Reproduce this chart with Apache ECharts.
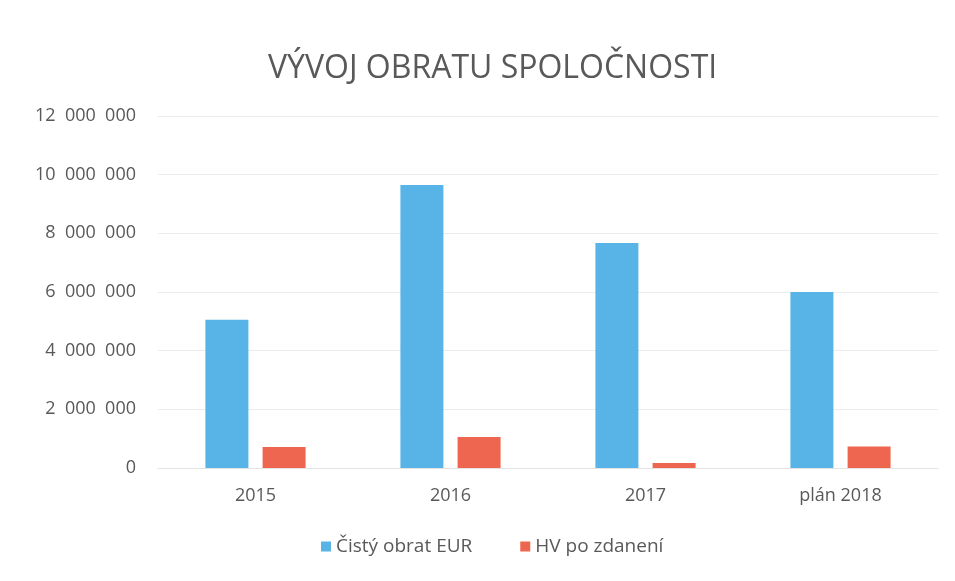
<!DOCTYPE html>
<html>
<head>
<meta charset="utf-8">
<script src="https://cdn.jsdelivr.net/npm/echarts@6/dist/echarts.min.js"></script>
<style>
  html, body { margin: 0; padding: 0; background: #fff; }
  #chart { width: 955px; height: 581px; }
</style>
</head>
<body>
<div id="chart"></div>
<script>
const categories = ['2015', '2016', '2017', 'plán 2018']
const obrat = [5050000, 9650000, 7670000, 6000000]
const hv = [720000, 1060000, 170000, 730000]
const seriesNames = ['Čistý obrat EUR', 'HV po zdanení']

const font = '"Open Sans", Lato, sans-serif'

// thousands separated by a wide gap, like the original
function formatNum(v) {
  return String(v).replace(/\B(?=(\d{3})+(?!\d))/g, '  ')
}

const chart = echarts.init(document.getElementById('chart'))
chart.setOption({
  animation: false,
  textStyle: { fontFamily: font },
  title: {
    text: 'VÝVOJ OBRATU SPOLOČNOSTI',
    left: 263,
    top: 48,
    textStyle: { fontFamily: font, fontSize: 32, fontWeight: 'normal', color: '#595959' },
  },
  legend: {
    data: seriesNames,
    bottom: 20,
    left: 316,
    itemWidth: 10,
    itemHeight: 10,
    itemGap: 48,
    icon: 'rect',
    textStyle: { fontFamily: font, fontSize: 19, color: '#595959' },
  },
  grid: { left: 158, right: 17, top: 116, bottom: 113 },
  xAxis: {
    type: 'category',
    data: categories,
    axisLine: { lineStyle: { color: '#e4e4e4' } },
    axisTick: { show: false },
    axisLabel: { fontSize: 18, color: '#595959', margin: 19 },
  },
  yAxis: {
    type: 'value',
    min: 0,
    max: 12000000,
    interval: 2000000,
    axisLine: { show: false },
    axisTick: { show: false },
    splitLine: { lineStyle: { color: '#ececec' } },
    axisLabel: { fontSize: 18, color: '#595959', margin: 22, formatter: formatNum },
  },
  series: [
    {
      name: seriesNames[0],
      type: 'bar',
      data: obrat,
      barWidth: 43,
      barGap: '33%',
      itemStyle: { color: '#58b4e6' },
    },
    {
      name: seriesNames[1],
      type: 'bar',
      data: hv,
      barWidth: 43,
      itemStyle: { color: '#ef6650' },
    },
  ],
})
</script>
</body>
</html>
